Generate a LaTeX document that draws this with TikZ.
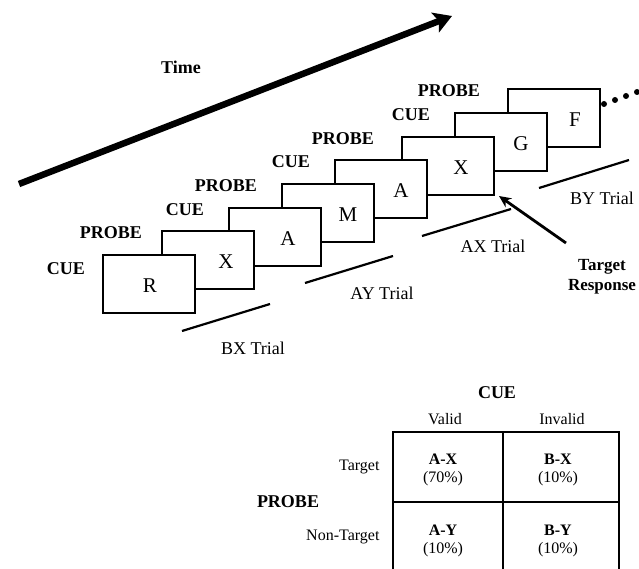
\documentclass[tikz,border=0pt]{standalone}
\usepackage{fontspec}
\setmainfont{Liberation Serif}
\usetikzlibrary{arrows.meta,positioning,calc}

\tikzset{
  trialbox/.style={draw,fill=white,line width=2pt,minimum width=92pt,minimum height=58pt,inner sep=0pt},
  boxletter/.style={font=\fontsize{21}{24}\selectfont},
  steplabel/.style={font=\fontsize{18}{20}\selectfont\bfseries,anchor=east,inner sep=0pt},
  trialline/.style={line width=2.2pt},
  triallabel/.style={font=\fontsize{18}{20}\selectfont},
  cell/.style={font=\fontsize{16}{18}\selectfont,align=center},
}

\begin{document}
\begin{tikzpicture}[x=1pt,y=-1pt]
  \useasboundingbox (0,0) rectangle (639,569);

  % time arrow
  \coordinate (t0) at (19,184);
  \coordinate (t1) at (452,16);
  \draw[line width=6.5pt,-{Stealth[length=18pt,width=21pt,inset=4pt]}] (t0) -- (t1);
  \node[font=\fontsize{18}{20}\selectfont\bfseries] (time) at (181,67) {Time};

  % stimulus screens, back to front
  \foreach \n/\x/\y/\l/\o in {f/554/118/F/26, g/501/142/G/27, x2/448/166/X/34, a2/381/189/A/27,
                              m/328/213/M/27, a1/275/237/A/34, x1/208/260/X/29, r/149/284/R/46} {
    \node[trialbox] (\n) at (\x,\y) {};
    \node[boxletter] (\n-txt) at ($(\n.east)+(-\o,2)$) {\l};
  }

  \node[steplabel] (c1) at ($(r.north west)+(-17,15)$) {CUE};
  \node[steplabel] (p1) at ($(x1.north west)+(-19,3)$) {PROBE};
  \node[steplabel] (c2) at ($(a1.north west)+(-24,3)$) {CUE};
  \node[steplabel] (p2) at ($(m.north west)+(-24,3)$) {PROBE};
  \node[steplabel] (c3) at ($(a2.north west)+(-24,3)$) {CUE};
  \node[steplabel] (p3) at ($(x2.north west)+(-27,3)$) {PROBE};
  \node[steplabel] (c4) at ($(g.north west)+(-24,3)$) {CUE};
  \node[steplabel] (p4) at ($(f.north west)+(-27,3)$) {PROBE};

  % more trials
  \foreach \i in {0,...,3}
    \fill (604+11*\i,104-4*\i) circle (3pt);

  % trial brackets
  \coordinate (bx0) at (182,331); \coordinate (bx1) at (270,304);
  \coordinate (ay0) at (305,283); \coordinate (ay1) at (393,256);
  \coordinate (ax0) at (422,236); \coordinate (ax1) at (511,209);
  \coordinate (by0) at (539,188); \coordinate (by1) at (629,160);
  \draw[trialline] (bx0) -- (bx1);
  \draw[trialline] (ay0) -- (ay1);
  \draw[trialline] (ax0) -- (ax1);
  \draw[trialline] (by0) -- (by1);
  \node[triallabel] (bxl) at (253,348) {BX Trial};
  \node[triallabel] (ayl) at (382,293) {AY Trial};
  \node[triallabel] (axl) at (493,246) {AX Trial};
  \node[triallabel] (byl) at (602,198) {BY Trial};

  % target response
  \node[font=\fontsize{17}{20}\selectfont\bfseries,align=center,inner sep=1pt] (resp) at (602,277) {Target\\Response};
  \coordinate (tr0) at (566,243);
  \coordinate (tr1) at ($(x2.south east)+(4,0)$);
  \draw[line width=2.8pt,-{Stealth[length=12pt,width=11pt]}] (tr0) -- (tr1);

  % condition table
  \draw[line width=2pt] (393,432) rectangle (619,572);
  \draw[line width=2pt] (503,432) -- (503,572);
  \draw[line width=2pt] (393,502) -- (619,502);
  \node[font=\fontsize{18}{20}\selectfont\bfseries] (cuehd) at (497,393) {CUE};
  \node[font=\fontsize{18}{20}\selectfont\bfseries] (probehd) at (288,502) {PROBE};
  \node[cell] (valid) at (445,419) {Valid};
  \node[cell] (invalid) at (562,419) {Invalid};
  \node[cell,anchor=east] (tgt) at (383,467) {Target};
  \node[cell,anchor=east] (ntgt) at (383,537) {Non-Target};
  \node[cell] (ax) at (443,470) {\textbf{A-X}\\(70\%)};
  \node[cell] (bx) at (558,470) {\textbf{B-X}\\(10\%)};
  \node[cell] (ay) at (443,541) {\textbf{A-Y}\\(10\%)};
  \node[cell] (by) at (558,541) {\textbf{B-Y}\\(10\%)};
\end{tikzpicture}
\end{document}
